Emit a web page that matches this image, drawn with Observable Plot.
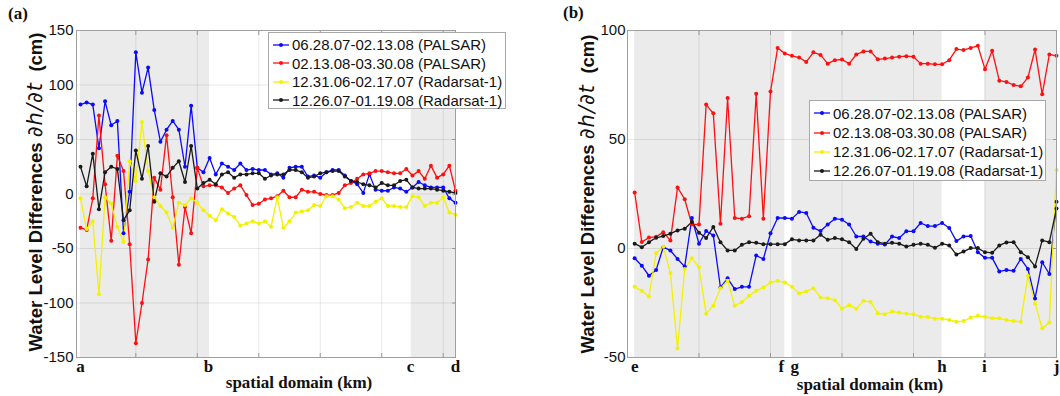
<!DOCTYPE html>
<html>
<head>
<meta charset="utf-8">
<script src="https://cdn.jsdelivr.net/npm/d3@7"></script>
<script src="https://cdn.jsdelivr.net/npm/@observablehq/plot@0.6"></script>
<style>
  html, body { margin: 0; padding: 0; background: #fff; }
  #fig { position: relative; width: 1060px; height: 396px; overflow: hidden; }
  .panel { position: absolute; top: 0; }
  .ylab { position: absolute; white-space: nowrap; font-family: "Liberation Sans", Arial, sans-serif;
          font-weight: bold; font-size: 18.5px; color: #111; transform: translate(-50%, -50%) rotate(-90deg); }
  .ylab .d { font-weight: normal; font-style: italic; font-family: "DejaVu Sans", sans-serif; font-size: 21px; letter-spacing: 1px; }
  .xlab { position: absolute; white-space: nowrap; font-family: "Liberation Serif", "Times New Roman", serif;
          font-weight: bold; font-size: 17px; color: #111; transform: translate(-50%, -50%); }
  .plab { position: absolute; font-family: "Liberation Serif", serif; font-weight: bold; font-size: 17px; color: #111; transform: translateY(-50%); }
  .legend { position: absolute; background: #fff; border: 1px solid #a8a8a8; box-sizing: border-box; }
  .legend .row { position: absolute; left: 3px; height: 18px; display: flex; align-items: center;
                 font-family: "Liberation Sans", Arial, sans-serif; font-size: 15px; color: #111; white-space: nowrap; transform: translateY(-50%); }
  .legend svg { margin-right: 2px; }
</style>
</head>
<body>
<div id="fig"></div>
<script>
// ---------- data ----------
const seriesNames = [
  "06.28.07-02.13.08 (PALSAR)",
  "02.13.08-03.30.08 (PALSAR)",
  "12.31.06-02.17.07 (Radarsat-1)",
  "12.26.07-01.19.08 (Radarsat-1)"
];
const seriesColors = ["#0a0aff", "#ff1010", "#f2f200", "#1a1a1a"];

// Panel (a): water level differences (cm) by sample along profile a-d
const blueA = [82, 84, 82, 42, 85, 63, 67, -36, 2, 130, 93, 116, 77, 48, 59, 67, 59, 25, 81, 24, 20,
  33, 18, 28, 25, 22, 28, 22, 23, 22, 22, 18, 19, 15, 24, 25, 25, 16, 17, 15, 20,
  22, 22, 17, 12, 9, 1, 18, 4, 3, 3, 6, 5, 2, 6, 11, 8, 6, 6, 6, -4, -8];
const redA = [-31, -33, -4, 72, 9, -43, 35, 21, -46, -137, -100, -60, 15, 4, 54, -3, -65, -12, -36, 24, 7,
  8, 8, 6, 1, 5, 8, -1, -10, -9, -5, -4, -2, 3, -3, -3, 4, 2, 2, 0, -1,
  -1, 1, 8, 10, 14, 18, 19, 21, 21, 20, 19, 19, 23, 17, 21, 14, 26, 15, 18, 26, 3];
const yellowA = [-4, -32, -25, -92, -3, -9, -30, -44, 30, 12, 66, 21, -3, -11, -17, -31, -8, -10, -4, -8, -15,
  -20, -24, -14, -18, -21, -29, -27, -25, -27, -25, -30, -3, -31, -25, -17, -16, -15, -10, -11, -2,
  -2, -5, -13, -12, -8, -11, -11, -7, -4, -11, -11, -12, -12, -2, -3, -11, -8, -8, -3, -17, -19];
const blackA = [25, 7, 37, -14, 20, 25, 23, -24, -15, 40, 14, 44, -7, 19, 16, 24, 30, 11, 44, 5, 10,
  13, 9, 18, 20, 15, 18, 18, 19, 19, 14, 17, 18, 18, 22, 22, 20, 15, 16, 19, 20,
  21, 21, 16, 12, 11, 9, 8, 6, 10, 8, 8, 12, 13, 6, 5, 5, 5, 4, 3, 2, 1];

// Panel (b): profile e-j
const blueB = [-4.5, -7.9, -12.5, -9.9, 0.6, -0.9, -4.8, -8.3, 14, 2.2,
  8, 6, -17.9, -13.7, -18.6, -17.6, -17.6, -3.2, -4.8, 7,
  14, 14, 13.7, 16.8, 16.3, 9.5, 8, 11, 13.7, 13.2,
  11, 5.5, 5.5, 3.2, 2.2, 1.8, 5.5, 4.8, 7.9, 7.9,
  11.7, 10.3, 10.3, 11.7, 9.4, 3.4, 5.5, 5.7, -1.7, -4.3,
  -4.3, -10.5, -9.9, -10.2, -4.8, -9.4, -22.9, -6.3, -11.7, 21.4];
const redB = [25.7, 3, 5, 5.4, 7.5, 3.7, 28, 22.6, 11, 11,
  66, 62, 11.4, 69, 14, 13.7, 14.8, 71, 13.7, 72,
  92, 89.5, 88.4, 87.6, 85.6, 90, 88.8, 84.8, 86.4, 86.7,
  84.8, 89, 90.4, 90.4, 86.8, 87.1, 87.6, 88, 88.2, 88,
  84.8, 84.8, 84.5, 84.5, 86.4, 91.5, 91, 92, 93, 82.2,
  90.7, 77, 76.4, 75, 74.4, 78.4, 91.3, 70.7, 89, 88.4];
const yellowB = [-17.6, -19.4, -22, -2.2, 0.8, -11.2, -45.9, -9.4, -4.5, -8.6,
  -29.9, -26.3, -18.2, -14.8, -26.3, -24.5, -21.7, -19.4, -17.9, -15.6,
  -14.8, -15.6, -17.6, -20.6, -19.7, -18.2, -22.5, -22.8, -23.7, -27.6,
  -26, -27.6, -24, -24.5, -29.7, -30.2, -28.9, -29.4, -29.9, -30.2,
  -31.3, -31.4, -32.2, -32.2, -32.8, -33.6, -33.3, -31.7, -30.9, -31.3,
  -32, -32, -32.8, -33.3, -33.6, -12.5, -25.3, -36.6, -34, 36];
const blackB = [2.2, 0.6, 2.9, 4.9, 5.7, 6.8, 8.3, 9.1, 12.2, 7.2,
  4.8, 9.9, 2.9, -0.9, -0.9, 1.7, 2.9, 2.6, 2, 2,
  2, 2, 4.2, 3.7, 3.7, 3.7, 6.3, 4, 4.8, 4.2,
  2.9, -0.2, 4.5, 6.8, 2.9, 2.2, 2.6, 2.2, 0.9, 1.7,
  2.2, 1.7, 0.3, 2.2, 1.4, -2.8, -1.4, 0.2, 0.2, -1.7,
  -2, 1.4, 2.8, 2.9, -1.7, -4, -8.2, 3.7, 2.9, 18.3];

// axis ticks / labels
const yTicksA = [-150, -100, -50, 0, 50, 100, 150];
const yTicksB = [-50, 0, 50, 100];
const gridXA = [9, 19, 29, 39, 49, 59];
const gridXB = [9, 19, 29, 39, 49];
const letterPosA = [0, 20.8, 53.7, 61];
const letterTextA = ["a", "b", "c", "d"];
const letterPosB = [0, 20.5, 22.4, 43, 48.9, 59];
const letterTextB = ["e", "f", "g", "h", "i", "j"];
// shaded segments (sample index ranges)
const shadeA = [[0, 21], [53.8, 61]];
const shadeB = [[0, 21], [22, 43], [49, 59]];

// ---------- build ----------
function rows(arrs) {
  const out = [];
  arrs.forEach((a, k) => a.forEach((v, i) => out.push({i, v, s: seriesNames[k]})));
  return out;
}

function panel({data, xDomain, yDomain, yTicks, gridX, letterPos, letterText, shade, width, mL, mR, tickPad}) {
  const fmtLetter = d => letterText[letterPos.indexOf(d)];
  return Plot.plot({
    width, height: 396,
    marginLeft: mL, marginRight: mR, marginTop: 30, marginBottom: 39,
    x: {domain: xDomain},
    y: {domain: yDomain},
    color: {domain: seriesNames, range: seriesColors},
    style: {background: "transparent", overflow: "visible"},
    marks: [
      Plot.rect(shade, {x1: d => d[0], x2: d => d[1], fill: "#ebebeb"}),
      Plot.gridX(gridX, {stroke: "#000", strokeOpacity: 0.09}),
      Plot.gridY(yTicks, {stroke: "#000", strokeOpacity: 0.09}),
      Plot.line(data, {x: "i", y: "v", z: "s", stroke: "s", strokeWidth: 1.3}),
      Plot.dot(data, {x: "i", y: "v", fill: "s", r: 2}),
      Plot.frame({stroke: "#a0a0a0"}),
      Plot.axisX(gridX, {anchor: "bottom", tickSize: -4, stroke: "#999", tickFormat: () => "", label: null}),
      Plot.axisX(gridX, {anchor: "top", tickSize: -4, stroke: "#999", tickFormat: () => "", label: null}),
      Plot.axisY(yTicks, {anchor: "right", tickSize: -4, stroke: "#999", tickFormat: () => "", label: null}),
      Plot.axisY(yTicks, {tickSize: 0, tickPadding: tickPad, tickFormat: d => String(d), fontSize: 15,
        fontFamily: "Liberation Sans, Arial, sans-serif", fill: "#111", label: null}),
      Plot.axisX(letterPos, {tickSize: 0, tickPadding: 2, tickFormat: fmtLetter, fontSize: 17, fontWeight: "bold",
        fontFamily: "Liberation Serif, Times New Roman, serif", fill: "#111", label: null})
    ]
  });
}

const fig = document.getElementById("fig");

const pa = panel({
  data: rows([blueA, redA, yellowA, blackA]),
  xDomain: [-0.65, 61], yDomain: [-150, 150], yTicks: yTicksA, gridX: gridXA,
  letterPos: letterPosA, letterText: letterTextA, shade: shadeA,
  width: 520, mL: 76, mR: 65, tickPad: 3
});
pa.classList.add("panel"); pa.style.left = "0px";
fig.appendChild(pa);

const pb = panel({
  data: rows([blueB, redB, yellowB, blackB]),
  xDomain: [-1, 59], yDomain: [-50, 100], yTicks: yTicksB, gridX: gridXB,
  letterPos: letterPosB, letterText: letterTextB, shade: shadeB,
  width: 530, mL: 97, mR: 4, tickPad: 2
});
pb.classList.add("panel"); pb.style.left = "530px";
fig.appendChild(pb);

function addHTML(html) { fig.insertAdjacentHTML("beforeend", html); }

const yTitle = 'Water Level Differences <span class="d">∂h/∂t</span>&nbsp;&nbsp;(cm)';
addHTML(`<div class="ylab" style="left:35px;top:192px">${yTitle}</div>`);
addHTML(`<div class="ylab" style="left:587px;top:194px">${yTitle}</div>`);
addHTML(`<div class="xlab" style="left:299px;top:383px">spatial domain (km)</div>`);
addHTML(`<div class="xlab" style="left:870px;top:385px">spatial domain (km)</div>`);
addHTML(`<div class="plab" style="left:8px;top:14px">(a)</div>`);
addHTML(`<div class="plab" style="left:563px;top:13px">(b)</div>`);

function legend(left, top, w, h, y0, dy) {
  let html = `<div class="legend" style="left:${left}px;top:${top}px;width:${w}px;height:${h}px">`;
  seriesNames.forEach((n, k) => {
    const c = seriesColors[k];
    html += `<div class="row" style="top:${y0 + k * dy}px"><svg width="18" height="10">
      <line x1="1" x2="17" y1="5" y2="5" stroke="${c}" stroke-width="1.3"/><circle cx="9" cy="5" r="2" fill="${c}"/></svg><span>${n}</span></div>`;
  });
  html += `</div>`;
  addHTML(html);
}
legend(268, 32, 238, 77, 11.5, 18.6);
legend(809, 100, 237, 81, 12.3, 19.2);
</script>
</body>
</html>
